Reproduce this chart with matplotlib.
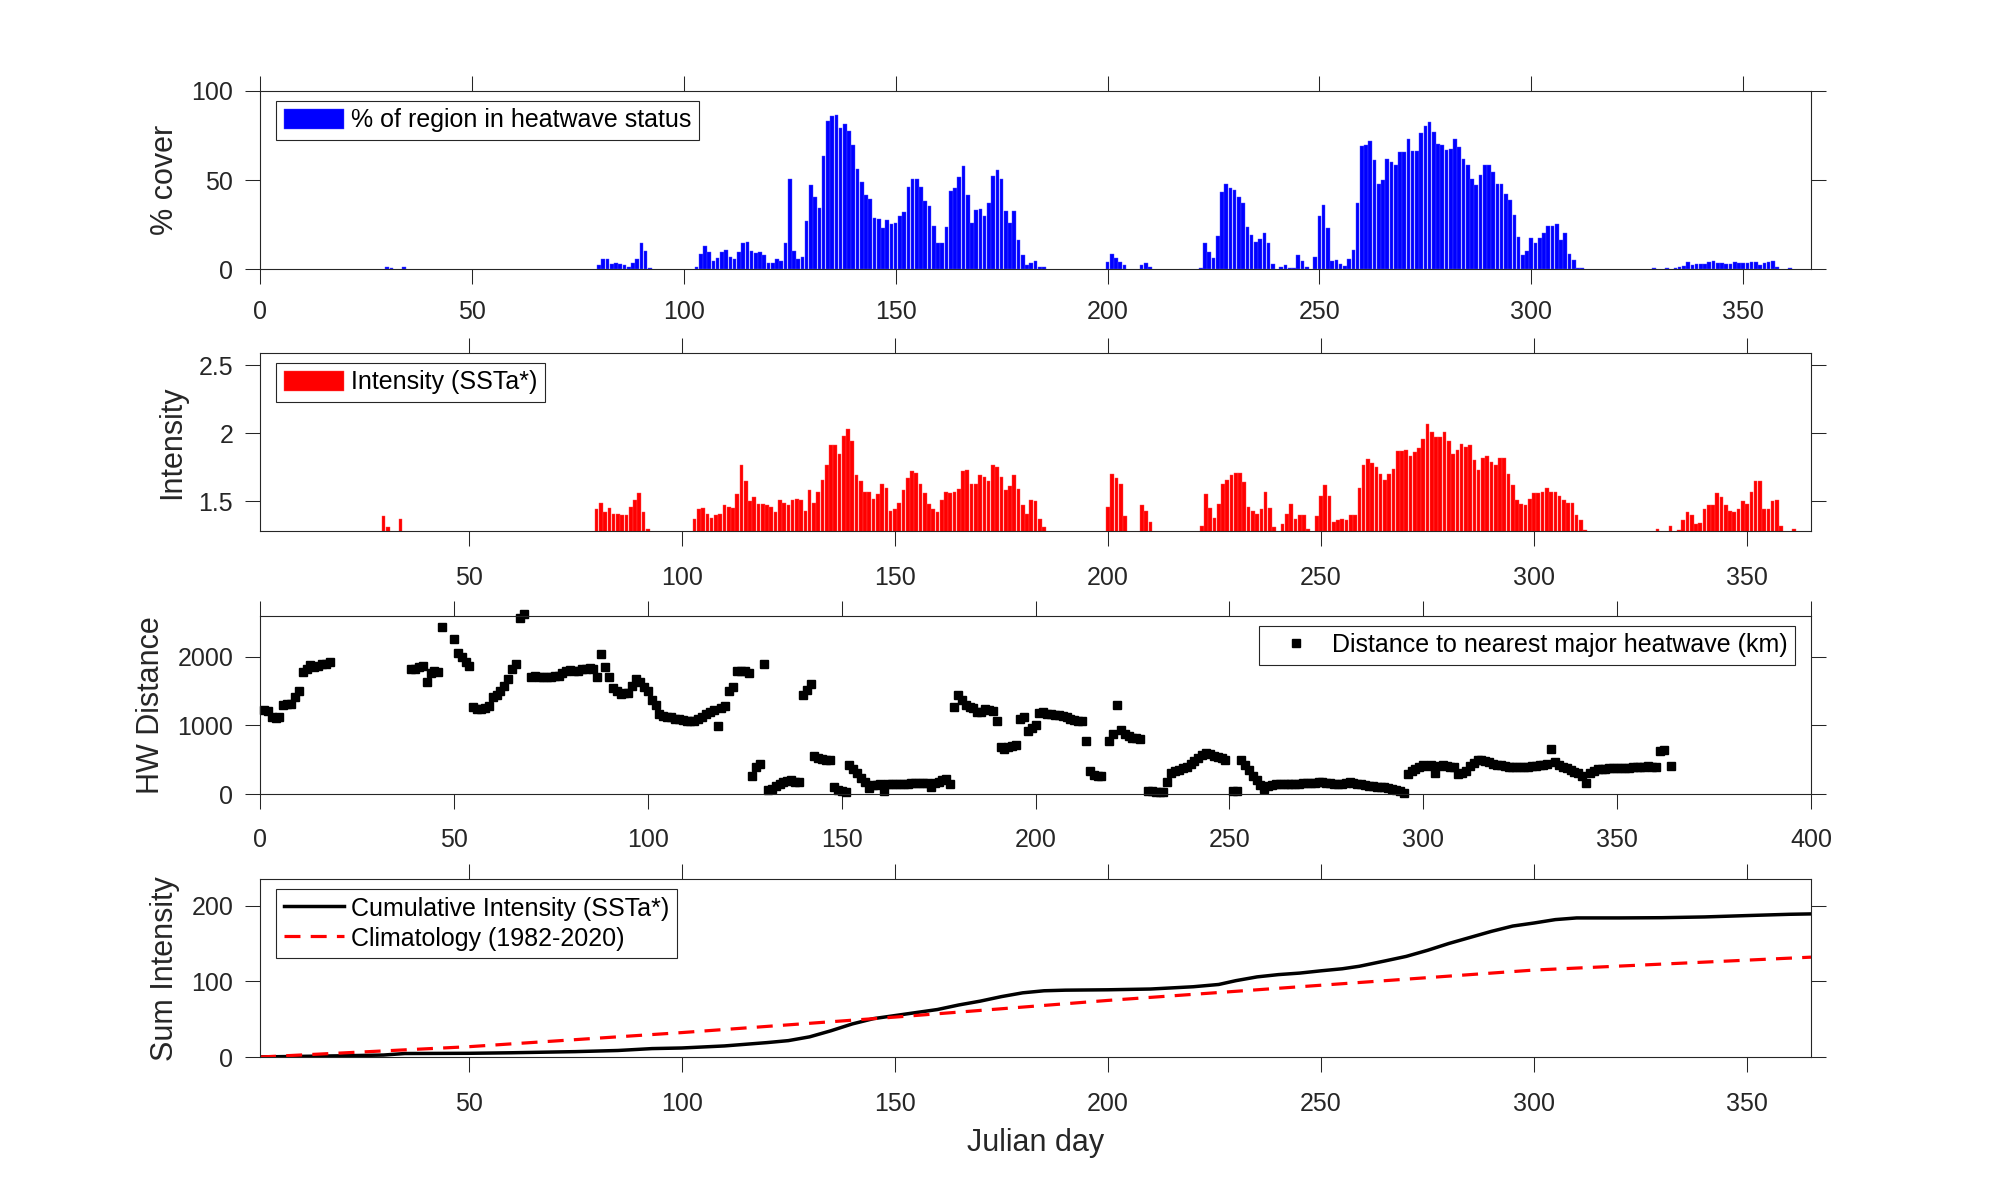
"""Regional marine heatwave summary: cover, intensity, distance, cumulative intensity."""

import numpy as np
import matplotlib
matplotlib.use("Agg")
import matplotlib.pyplot as plt

plt.rcParams['font.family'] = ['Liberation Sans', 'DejaVu Sans']

AX_COL = "#262626"

# ── data (runs of consecutive Julian days: (first day, values)) ──
COVER_RUNS = [
    (30, [1.3, 0.5]), (34, [1.0]),
    (80, [2.6, 5.6, 6.0, 2.8, 3.3, 3.0, 2.2, 1.5, 3.3, 5.6, 14.7, 10.4, 0.5]),
    (103, [1.3, 8.4, 12.8, 9.7, 4.5, 6.3, 9.5, 10.6, 6.7, 6.0,
           9.5, 14.7, 15.4, 10.0, 9.1, 9.5, 8.2, 3.5, 3.3, 5.8,
           4.8, 14.5, 50.4, 10.0, 6.0, 6.7, 27.3, 47.2, 40.3, 34.2,
           63.6, 83.3, 85.9, 86.6, 79.4, 81.6, 77.5, 69.7, 56.3, 49.1,
           41.4, 39.4, 29.0, 28.4, 23.0, 27.9, 25.3, 25.7, 30.0,
           32.3, 45.9, 50.7, 50.4, 45.9, 38.5, 35.3, 24.0, 15.0, 14.7,
           23.6, 44.0, 45.7, 51.5, 58.0, 41.8, 25.8, 33.1, 33.8, 30.1,
           37.0, 52.2, 55.8, 50.9, 32.9, 26.2, 32.5, 16.5, 8.2, 2.6,
           3.5, 4.5, 1.3, 1.1]),
    (200, [4.1, 8.4, 6.3, 4.1, 2.4]), (208, [2.4, 3.3, 1.3]),
    (222, [0.9, 14.5, 9.7, 6.3, 18.6, 43.1, 47.6, 45.4, 44.6, 40.3,
           37.0, 23.6, 19.0, 15.2, 16.9, 20.1, 14.7, 3.0]),
    (241, [1.3, 2.2, 0.7, 0.7, 8.0, 4.8, 1.1]),
    (249, [7.1, 30.1, 36.2, 22.9, 4.5, 5.2, 3.0, 1.9, 5.9, 10.6, 37.0,
           69.1, 69.9, 72.1, 61.5, 48.1, 49.8, 62.1, 60.4, 58.4, 65.6,
           65.6, 72.9, 66.2, 66.2, 76.4, 80.5, 82.5, 77.1, 70.4, 69.9,
           66.7, 67.7, 72.9, 68.6, 61.7, 58.4, 50.9, 47.2, 52.6, 58.4,
           58.7, 54.8, 47.6, 47.6, 42.4, 38.7, 30.3, 18.2, 8.2, 10.2,
           17.5, 14.7, 17.5, 20.4, 24.3, 24.3, 25.5, 16.7, 20.6, 8.6,
           5.2, 0.5, 0.5]),
    (329, [0.7]), (332, [0.7]),
    (334, [0.5, 1.3, 2.0, 4.1, 2.2, 2.8, 2.8, 3.0, 4.1, 4.5, 3.3, 3.3, 3.0,
           3.0, 4.1, 3.7, 3.3, 3.7, 4.1, 4.1, 2.4, 3.7, 4.1, 4.5, 1.1]),
    (361, [0.5]),
]

INTENSITY_RUNS = [
    (30, [1.39, 1.31]), (34, [1.37]),
    (80, [1.44, 1.485, 1.42, 1.45, 1.41, 1.405, 1.40, 1.40, 1.46, 1.51, 1.56, 1.42, 1.30]),
    (103, [1.37, 1.44, 1.45, 1.41, 1.38, 1.40, 1.41, 1.47, 1.46, 1.45,
           1.55, 1.77, 1.65, 1.50, 1.53, 1.48, 1.48, 1.47, 1.46, 1.42,
           1.51, 1.485, 1.47, 1.51, 1.52, 1.51, 1.43, 1.58, 1.49, 1.57,
           1.66, 1.77, 1.91, 1.91, 1.85, 1.98, 2.03, 1.94, 1.69, 1.65,
           1.57, 1.57, 1.52, 1.55, 1.63, 1.60, 1.43, 1.44, 1.49, 1.58,
           1.67, 1.72, 1.71, 1.63, 1.56, 1.48, 1.44, 1.42, 1.51, 1.57,
           1.56, 1.57, 1.59, 1.72, 1.73, 1.63, 1.63, 1.69, 1.68, 1.65,
           1.77, 1.75, 1.68, 1.58, 1.61, 1.69, 1.59, 1.47, 1.41, 1.51,
           1.50, 1.37, 1.31]),
    (200, [1.46, 1.70, 1.67, 1.63, 1.39]), (208, [1.47, 1.43, 1.35]),
    (222, [1.32, 1.55, 1.45, 1.38, 1.48, 1.63, 1.66, 1.69, 1.71, 1.71,
           1.64, 1.46, 1.43, 1.41, 1.44, 1.57, 1.45, 1.31]),
    (241, [1.33, 1.41, 1.48, 1.37, 1.40, 1.40, 1.30]),
    (249, [1.39, 1.54, 1.62, 1.54, 1.35, 1.36, 1.37, 1.36, 1.40, 1.40, 1.60,
           1.77, 1.81, 1.78, 1.75, 1.70, 1.66, 1.70, 1.74, 1.87, 1.87,
           1.88, 1.83, 1.86, 1.89, 1.96, 2.07, 2.01, 1.97, 1.97, 2.01,
           1.94, 1.85, 1.88, 1.92, 1.90, 1.91, 1.80, 1.73, 1.82, 1.83,
           1.79, 1.77, 1.82, 1.82, 1.70, 1.62, 1.51, 1.48, 1.47, 1.52,
           1.56, 1.56, 1.57, 1.60, 1.57, 1.57, 1.54, 1.51, 1.49, 1.49,
           1.40, 1.36, 1.29]),
    (329, [1.30]), (332, [1.32]),
    (334, [1.29, 1.36, 1.42, 1.40, 1.33, 1.34, 1.44, 1.47, 1.47, 1.56, 1.53, 1.47, 1.43,
           1.42, 1.44, 1.50, 1.48, 1.57, 1.65, 1.65, 1.44, 1.44, 1.50, 1.51, 1.32]),
    (361, [1.30]),
]

DIST_RUNS = [
    (1, [1230, 1210, 1130, 1110, 1120, 1300, 1310, 1320, 1420, 1500,
         1780, 1820, 1880, 1850, 1870, 1890, 1900, 1930]),
    (39, [1830, 1830, 1850, 1860, 1640, 1760, 1790, 1780, 2440]),
    (50, [2260, 2060, 2000, 1930, 1860, 1270, 1240, 1240, 1260, 1290,
          1420, 1440, 1500, 1580, 1680, 1820, 1900, 2570, 2620]),
    (70, [1710, 1720, 1710, 1700, 1710, 1700, 1720, 1720, 1760, 1790,
          1810, 1790, 1800, 1820, 1830, 1840, 1830,
          1710, 2040, 1850, 1710, 1540, 1500, 1460, 1470, 1480, 1580,
          1680, 1630, 1560, 1500, 1370, 1300,
          1160, 1140, 1130, 1120, 1100, 1090, 1080, 1070, 1060, 1070,
          1100, 1130, 1170, 1190, 1220,
          990, 1250, 1280, 1500, 1560, 1800, 1800, 1790, 1760,
          260, 400, 440, 1900, 60, 70, 110, 140, 170, 190, 200, 180, 170,
          1440, 1520, 1600, 560, 530, 510, 500, 490, 100, 60, 40, 30,
          420, 360, 300, 230, 170, 90, 130, 130, 140, 40,
          140, 140, 140, 140, 150, 150, 160, 160, 160, 160,
          160, 100, 160, 180, 200, 220, 150,
          1270, 1450, 1370, 1300, 1270, 1250, 1190, 1200, 1240, 1230, 1210, 1060,
          680, 660, 680, 700, 720, 1090, 1120, 920, 970, 1000,
          1180, 1190, 1170, 1160, 1150, 1150, 1140, 1120, 1100, 1080, 1060, 1060, 770,
          330, 280, 260, 270]),
    (219, [770, 870, 1300, 940, 880, 840, 820, 810, 800]),
    (229, [50, 40, 30, 30, 30, 180, 310, 330, 350, 380, 400, 440, 480, 530,
           570, 600, 580, 560, 540, 520, 500]),
    (251, [50, 40, 500, 420, 350, 270, 200, 130, 80,
           110, 130, 140, 150, 150, 150, 150, 150, 150, 160,
           160, 160, 160, 170, 170, 160, 160, 150, 150, 150,
           160, 170, 160, 150, 140, 130, 120, 110, 100, 100,
           100, 90, 80, 60, 40, 20,
           290, 330, 360, 400, 420, 410, 420, 300, 410, 420, 410, 400, 400,
           290, 300, 340, 410,
           450, 490, 500, 480, 460, 440, 430, 420, 410, 400,
           400, 390, 390, 400, 400, 410, 410, 420, 430, 440,
           660, 470, 420, 400, 380, 350, 320, 300, 270, 160,
           310, 340, 360, 370, 370, 380, 380, 380, 380, 380, 380, 390, 390,
           400, 400, 410, 400, 400, 630, 640]),
    (364, [410]),
]

CUM_DAYS = [1, 20, 30, 35, 50, 60, 75, 85, 93, 100,
            110, 120, 125, 130, 135, 140, 145, 150, 155, 160,
            165, 170, 175, 180, 185, 190, 200, 210, 220, 226,
            230, 235, 240, 245, 250, 255, 259, 265, 270, 275,
            280, 285, 290, 295, 300, 305, 310, 320, 330, 340,
            350, 360, 365]
CUM_VALS = [0.5, 2, 3, 5, 5.3, 6, 7.5, 9, 11.5, 12.3,
            15, 19.4, 22, 27, 35, 44, 51, 55, 59, 63,
            69, 74, 80, 85, 87.7, 88.5, 89, 90, 93, 96,
            101, 106, 109, 111, 114, 116.7, 120, 127, 133, 141,
            150, 158, 166, 173, 177, 181.5, 183.7, 183.7, 184, 185,
            186.8, 188.5, 189]

CLIM_DAYS = [1, 50, 100, 150, 200, 250, 300, 365]
CLIM_VALS = [0.4, 14, 32.6, 53, 75, 95, 115, 132]


def runs_to_series(runs):
    days, vals = [], []
    for start, v in runs:
        days.extend(range(start, start + len(v)))
        vals.extend(v)
    return np.array(days), np.array(vals, dtype=float)


def style_axes(ax, xpad=14):
    for s in ax.spines.values():
        s.set_color(AX_COL)
        s.set_linewidth(0.8)
    ax.tick_params(which="both", direction="out", length=10.8, width=0.75,
                   top=True, right=True, colors=AX_COL, labelsize=18)
    ax.tick_params(axis="x", pad=xpad)
    ax.tick_params(axis="y", pad=8.5)


def add_legend(ax, upper_right=False, handlelength=2.4, **kw):
    dx, dy = 16 / 1551, 10 / 178
    if upper_right:
        loc, anchor = "upper right", (1 - dx, 1 - dy)
    else:
        loc, anchor = "upper left", (dx, 1 - dy)
    leg = ax.legend(loc=loc, bbox_to_anchor=anchor, bbox_transform=ax.transAxes,
                    borderaxespad=0, fancybox=False, framealpha=1,
                    edgecolor=AX_COL, fontsize=18, handlelength=handlelength,
                    handleheight=0.85, handletextpad=0.3, borderpad=0.3,
                    labelspacing=0.25, **kw)
    leg.get_frame().set_linewidth(0.8)
    return leg


fig = plt.figure(figsize=(20, 12), dpi=100)
H = 0.1486
ax1 = fig.add_axes([0.13, 0.7756, 0.7755, H])
ax2 = fig.add_axes([0.13, 0.5573, 0.7755, H])
ax3 = fig.add_axes([0.13, 0.3383, 0.7755, H])
ax4 = fig.add_axes([0.13, 0.1189, 0.7755, H])

# ── Panel 1: % cover ──
d, v = runs_to_series(COVER_RUNS)
ax1.bar(d, v, width=0.86, color="#0000ff", edgecolor="#4d4dff", linewidth=0.3,
        label="% of region in heatwave status")
ax1.set_xlim(0, 366)
ax1.set_ylim(0, 100)
ax1.set_xticks(np.arange(0, 351, 50))
ax1.set_yticks([0, 50, 100])
ax1.set_ylabel("% cover", fontsize=22, color=AX_COL, labelpad=8)
style_axes(ax1, xpad=11.5)
add_legend(ax1)

# ── Panel 2: intensity ──
d, v = runs_to_series(INTENSITY_RUNS)
ax2.bar(d, v, width=0.86, color="#ff0000", edgecolor="#ff4d4d", linewidth=0.3,
        label="Intensity (SSTa*)")
ax2.set_xlim(1, 365)
ax2.set_ylim(1.28, 2.59)
ax2.set_xticks(np.arange(50, 351, 50))
ax2.set_yticks([1.5, 2, 2.5])
ax2.set_yticklabels(["1.5", "2", "2.5"])
ax2.set_ylabel("Intensity", fontsize=22, color=AX_COL, labelpad=8)
style_axes(ax2)
add_legend(ax2)

# ── Panel 3: distance to nearest major heatwave ──
d, v = runs_to_series(DIST_RUNS)
ax3.plot(d, v, "s", color="k", markersize=5.3, linestyle="none", clip_on=False,
         label="Distance to nearest major heatwave (km)")
ax3.set_xlim(0, 400)
ax3.set_ylim(0, 2600)
ax3.set_xticks(np.arange(0, 401, 50))
ax3.set_yticks([0, 1000, 2000])
ax3.set_ylabel("HW Distance", fontsize=22, color=AX_COL, labelpad=8)
style_axes(ax3)
add_legend(ax3, upper_right=True, handlelength=2.3, numpoints=1)

# ── Panel 4: cumulative intensity ──
ax4.plot(CUM_DAYS, CUM_VALS, color="k", linewidth=2.5,
         label="Cumulative Intensity (SSTa*)")
ax4.plot(CLIM_DAYS, CLIM_VALS, color="#ff0000", linewidth=2.3, dashes=(5.0, 3.2),
         label="Climatology (1982-2020)")
ax4.set_xlim(1, 365)
ax4.set_ylim(0, 235)
ax4.set_xticks(np.arange(50, 351, 50))
ax4.set_yticks([0, 100, 200])
ax4.set_ylabel("Sum Intensity", fontsize=22, color=AX_COL, labelpad=8)
ax4.set_xlabel("Julian day", fontsize=22, color=AX_COL, labelpad=9)
style_axes(ax4)
add_legend(ax4)

fig.savefig("out.png", dpi=100, facecolor="white")
